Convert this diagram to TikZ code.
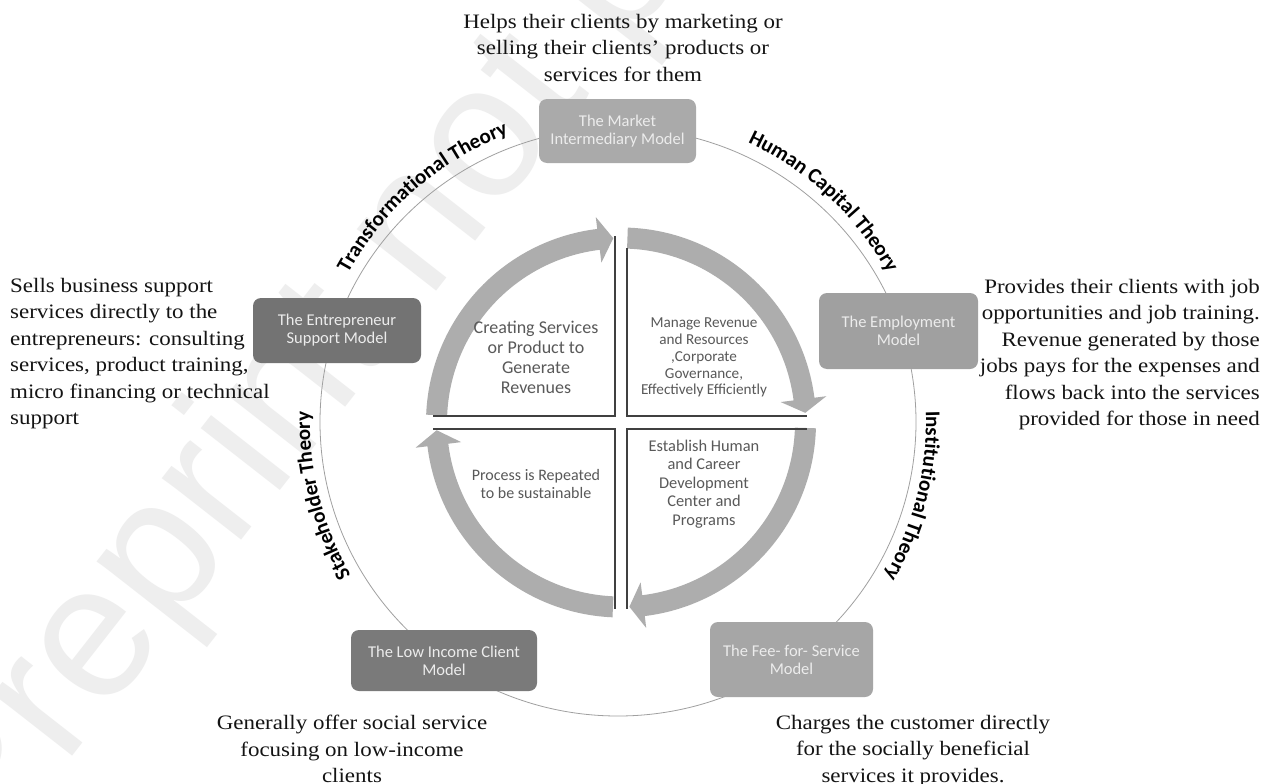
\documentclass[tikz,border=0pt]{standalone}
\usepackage{fontspec}
\setmainfont{Liberation Serif}
\newfontfamily\boxfont{Carlito}
\newfontfamily\descfont[FakeStretch=1.12]{Liberation Serif}
\newfontfamily\markfont{Liberation Sans}
\usetikzlibrary{decorations.text}

\definecolor{ringgray}{RGB}{173,173,173}
\definecolor{circlegray}{RGB}{160,160,160}
\definecolor{quadline}{RGB}{64,64,64}
\definecolor{innertext}{RGB}{89,89,89}
\definecolor{boxtext}{RGB}{236,236,236}
\definecolor{lightbox}{RGB}{170,170,170}
\definecolor{midbox}{RGB}{160,160,160}
\definecolor{feebox}{RGB}{166,166,166}
\definecolor{darkbox}{RGB}{115,115,115}
\definecolor{lowbox}{RGB}{122,122,122}
\definecolor{watermark}{RGB}{238,238,238}

\newcommand\theoryfont{\color{black}\boxfont\bfseries\fontsize{21}{21}\selectfont}

% one curved arrow of the inner cycle: start angle, head base angle, tip angle
\newcommand\ringarrow[3]{%
  \fill[ringgray] ([shift={(#1:195)}]ic) arc[start angle=#1, end angle=#2, radius=195]
    -- ([shift={(#2:207)}]ic) -- ([shift={(#3:184.5)}]ic) -- ([shift={(#2:161)}]ic)
    -- ([shift={(#2:174)}]ic) arc[start angle=#2, end angle=#1, radius=174] -- cycle;}

\begin{document}
\begin{tikzpicture}[x=1pt,y=1pt,
  model/.style={rectangle, rounded corners=8pt, inner sep=0pt, align=center,
    text=boxtext, font=\boxfont\fontsize{16.5}{18}\selectfont},
  desc/.style={inner sep=0pt, text=black!92, font=\descfont\fontsize{20.5}{26.5}\selectfont},
  inner/.style={inner sep=0pt, align=center, text=innertext},
  quad/.style={draw=quadline, line width=2pt},
  theory/.style={decorate, decoration={text along path, text align=center,
    text={|\theoryfont|#1}}}
]
\useasboundingbox (0,0) rectangle (1274,-784);
\fill[white] (0,0) rectangle (1274,-784);

% background watermark
\begin{scope}
  \clip (0,0) rectangle (1274,-784);
  \node[rotate=52, anchor=base west, inner sep=0pt, text=watermark,
    font=\markfont\fontsize{190}{190}\selectfont] (wm) at (-14,-867) {Preprint not peer reviewed};
\end{scope}

\coordinate (oc) at (618,-422);
\coordinate (ic) at (621,-422.5);

% outer ring joining the five models
\draw[circlegray, line width=0.8pt] (oc) ellipse [x radius=298, y radius=294];

% inner cycle of arrows
\ringarrow{177.7}{97}{92.4}
\ringarrow{88}{7.3}{3}
\ringarrow{-1.7}{-83}{-87.4}
\ringarrow{-92.5}{-173}{-177.6}

% quadrant borders
\draw[quad] (433,-416) -- (615,-416) -- (615,-236);
\draw[quad] (627,-248) -- (627,-416) -- (807,-416);
\draw[quad] (433,-429) -- (615,-429) -- (615,-609);
\draw[quad] (807,-429) -- (627,-429) -- (627,-609);

% quadrant texts
\node[inner, anchor=north, font=\boxfont\fontsize{18}{20}\selectfont] (q1) at (536,-321)
  {Creating Services\\or Product to\\Generate\\Revenues};
\node[inner, anchor=north, font=\boxfont\fontsize{15.2}{16.7}\selectfont] (q2) at (704,-318)
  {Manage Revenue\\and Resources\\,Corporate\\Governance,\\Effectively Efficiently};
\node[inner, anchor=north, font=\boxfont\fontsize{16}{18}\selectfont] (q3) at (536,-469)
  {Process is Repeated\\to be sustainable};
\node[inner, anchor=north, font=\boxfont\fontsize{16.4}{18.5}\selectfont] (q4) at (704,-439.5)
  {Establish Human\\and Career\\Development\\Center and\\Programs};

% the five models
\node[model, fill=lightbox, minimum width=157pt, minimum height=64pt] (market) at (617.5,-131)
  {The Market\\Intermediary Model};
\node[model, fill=midbox, minimum width=159pt, minimum height=76pt] (employ) at (898.5,-331)
  {The Employment\\Model};
\node[model, fill=feebox, minimum width=163pt, minimum height=75pt] (fee) at (791.5,-659.5)
  {The Fee- for- Service\\Model};
\node[model, fill=lowbox, minimum width=186pt, minimum height=61pt] (low) at (444,-660.5)
  {The Low Income Client\\Model};
\node[model, fill=darkbox, minimum width=168pt, minimum height=65pt] (entre) at (337,-330.5)
  {The Entrepreneur\\Support Model};

% theories along the ring
\path[theory={Transformational Theory}] ([shift={(171:308)}]oc) arc[start angle=171, end angle=91, radius=308];
\path[theory={Human Capital Theory}] ([shift={(87:308)}]oc) arc[start angle=87, end angle=7, radius=308];
\path[theory={Institutional Theory}] ([shift={(26:308)}]oc) arc[start angle=26, end angle=-54, radius=308];
\path[theory={Stakeholder Theory}] ([shift={(234:308)}]oc) arc[start angle=234, end angle=154, radius=308];

% descriptions of the models
\node[desc, align=center, anchor=north] (dmarket) at (623,-14)
  {Helps their clients by marketing or\\selling their clients’ products or\\services for them};
\node[desc, align=right, anchor=north east] (demploy) at (1260,-279)
  {Provides their clients with job\\opportunities and job training.\\Revenue generated by those\\jobs pays for the expenses and\\flows back into the services\\provided for those in need};
\node[desc, align=left, anchor=north west] (dentre) at (10,-278)
  {Sells business support\\services directly to the\\entrepreneurs: consulting\\services, product training,\\micro financing or technical\\support};
\node[desc, align=center, anchor=north] (dlow) at (352,-715)
  {Generally offer social service\\focusing on low-income\\clients};
\node[desc, align=center, anchor=north] (dfee) at (913,-715)
  {Charges the customer directly\\for the socially beneficial\\services it provides.};
\end{tikzpicture}
\end{document}
